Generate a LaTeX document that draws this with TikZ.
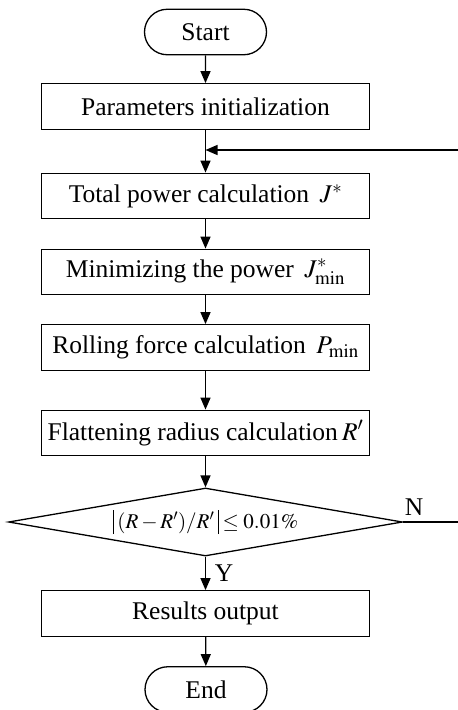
\documentclass[tikz,border=0pt]{standalone}
\usepackage{mathptmx}
\usepackage[no-math]{fontspec}
\setmainfont{Liberation Serif}
\usetikzlibrary{arrows.meta,shapes.geometric,shapes.misc}
\newcommand{\absbar}{\rule[-0.28em]{0.055em}{1.16em}}
\tikzset{
  x=1pt, y=-1pt,
  every node/.style={font=\fontsize{25.5}{30}\selectfont},
  procbox/.style={draw, line width=1.3pt, minimum width=328pt, minimum height=45.5pt, inner sep=0pt},
  termbox/.style={draw, line width=1.3pt, rounded rectangle, minimum width=122pt, minimum height=45.5pt, inner sep=0pt},
  decbox/.style={draw, line width=1.3pt, diamond, shape aspect=5.8, minimum width=394pt, minimum height=68pt, inner sep=0pt, font=\fontsize{21}{25}\selectfont},
  flow/.style={line width=1.3pt, -{Triangle[length=12pt,width=10pt]}},
}
\begin{document}
\begin{tikzpicture}
\useasboundingbox (0,0) rectangle (458,710);
\node[termbox] (start) at (205.5,32) {Start};
\node[procbox] (param) at (205.5,106.5) {Parameters initialization};
\node[procbox] (total) at (205.5,196) {Total power calculation \,$J^{*}$};
\node[procbox] (mini) at (205.5,272) {Minimizing the power \,$J^{*}_{\min}$};
\node[procbox] (roll) at (205.5,347.5) {Rolling force calculation \,$P_{\min}$};
\node[procbox] (flat) at (205.5,433) {Flattening radius calculation\,$R'$};
\node[decbox] (dec) at (205.5,522) {\absbar\,$(R-R')/R'$\,\absbar\,$\le 0.01\%$};
\node[procbox] (res) at (205.5,613.5) {Results output};
\node[termbox] (end) at (206,689.5) {End};
\node (nlab) at (414,507) {N};
\node (ylab) at (224,573) {Y};
\coordinate (j) at (205.5,150);
\coordinate (fr) at (470,522);
\coordinate (fu) at (470,150);
\draw[flow] (start) -- (param);
\draw[flow] (param) -- (total);
\draw[flow] (total) -- (mini);
\draw[flow] (mini) -- (roll);
\draw[flow] (roll) -- (flat);
\draw[flow] (flat) -- (dec.north);
\draw[flow] (dec.south) -- (res);
\draw[flow] (res) -- (end);
\draw[flow] (dec.east) -- (fr) -- (fu) -- (j);
\end{tikzpicture}
\end{document}
